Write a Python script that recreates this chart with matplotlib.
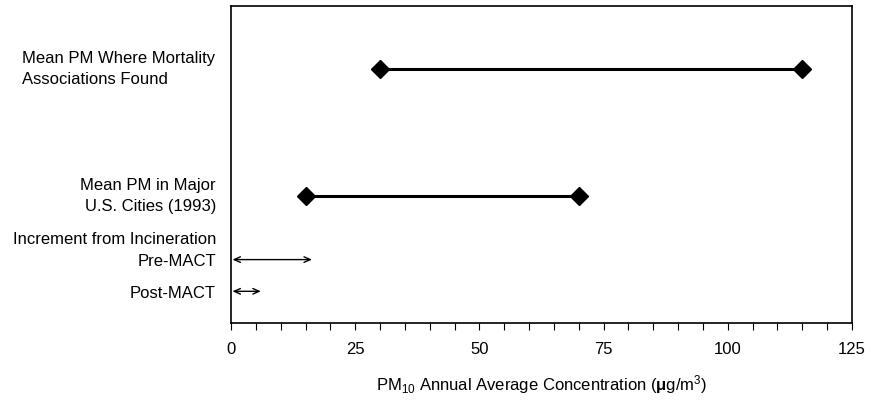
import numpy as np
import matplotlib.pyplot as plt
from matplotlib.ticker import MultipleLocator

plt.rcParams['font.family'] = ['Liberation Sans', 'DejaVu Sans']
plt.rcParams['mathtext.fontset'] = 'custom'
plt.rcParams['mathtext.rm'] = 'Liberation Sans'
plt.rcParams['mathtext.it'] = 'Liberation Sans:italic'
plt.rcParams['mathtext.bf'] = 'Liberation Sans:bold'

# ranges with diamond ends
range_labels = ["Mean PM Where Mortality\nAssociations Found", "Mean PM in Major\nU.S. Cities (1993)"]
range_lo = [30, 15]
range_hi = [115, 70]
range_y = [8, 4]

# incineration increments (arrows from 0)
incr_labels = ["Pre-MACT", "Post-MACT"]
incr_hi = [16.3, 6]
incr_y = [2, 1]

fig = plt.figure(figsize=(8.71, 4.0), dpi=100)
ax = fig.add_axes([0.2652, 0.1925, 0.713, 0.7925])

for lo, hi, y in zip(range_lo, range_hi, range_y):
    ax.plot([lo, hi], [y, y], color="black", lw=2.2, marker="D", ms=9,
            markerfacecolor="black", markeredgecolor="black", solid_capstyle="butt")

for hi, y in zip(incr_hi, incr_y):
    ax.annotate("", xy=(hi, y), xytext=(0.3, y),
                arrowprops=dict(arrowstyle="<->,head_length=0.45,head_width=0.2",
                                color="black", lw=1.0, shrinkA=0, shrinkB=0))

ax.set_xlim(0, 125)
ax.set_ylim(0, 10)
ax.set_yticks([])
ax.xaxis.set_major_locator(MultipleLocator(25))
ax.xaxis.set_minor_locator(MultipleLocator(5))
ax.tick_params(axis="x", which="both", direction="out", length=5, width=0.8, labelsize=12, pad=9)
for s in ax.spines.values():
    s.set_linewidth(1.2)

# left-side labels
fs = 12
fig.text(22/871, 1 - 69/400, range_labels[0], ha="left", va="center", fontsize=fs, linespacing=1.55)
fig.text(216/871, 1 - 196/400, range_labels[1], ha="right", va="center", fontsize=fs,
         linespacing=1.55, multialignment="right")
fig.text(216/871, 1 - 240/400, "Increment from Incineration", ha="right", va="center", fontsize=fs)
for lab, y in zip(incr_labels, [261, 293]):
    fig.text(216/871, 1 - y/400, lab, ha="right", va="center", fontsize=fs)

ax.set_xlabel(r"PM$_{10}$ Annual Average Concentration ($\mathbf{\mu}$g/m$^{3}$)", fontsize=fs, labelpad=11)

plt.savefig("out.png", dpi=100)
plt.close()
